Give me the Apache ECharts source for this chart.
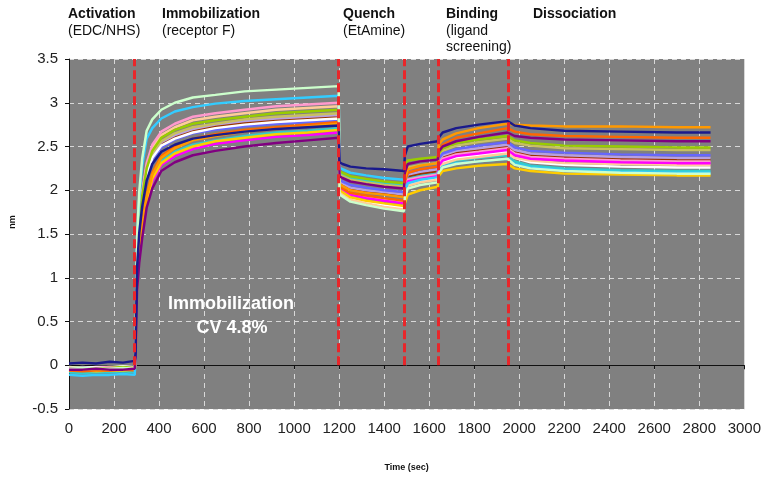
<!DOCTYPE html>
<html>
<head>
<meta charset="utf-8">
<script src="https://cdn.jsdelivr.net/npm/echarts@6/dist/echarts.min.js"></script>
<style>
html,body{margin:0;padding:0;background:#fff;}
#chart{width:764px;height:477px;}
</style>
</head>
<body>
<div id="chart"></div>
<script>
// Time points (sec)
const time = [0,60,120,180,240,292, 296,302,312,325,345,370,410,470,550,650,780,920,1060,1198, 1202,1215,1250,1320,1400,1488, 1492,1505,1560,1638, 1642,1660,1720,1820,1948, 1952,1980,2050,2200,2450,2700,2850];

// Sensor traces (nm)
const navy    = [0.02,0.03,0.02,0.04,0.03,0.05, 0.14,1.10,1.51,1.81,2.11,2.30,2.44,2.52,2.59,2.63,2.67,2.70,2.72,2.74, 2.32,2.30,2.27,2.25,2.24,2.22, 2.40,2.50,2.53,2.56, 2.60,2.66,2.71,2.75,2.79, 2.79,2.74,2.71,2.68,2.67,2.66,2.66];
const orange  = [-0.05,-0.04,-0.06,-0.05,-0.04,-0.05, 0.11,0.97,1.32,1.60,1.93,2.18,2.37,2.48,2.57,2.62,2.67,2.70,2.73,2.76, 2.07,2.05,2.00,1.97,1.95,1.92, 2.14,2.24,2.28,2.31, 2.52,2.58,2.65,2.71,2.76, 2.77,2.75,2.74,2.73,2.73,2.72,2.72];
const orangeRed = [-0.06,-0.07,-0.06,-0.06,-0.05,-0.06, 0.11,0.97,1.33,1.61,1.95,2.20,2.39,2.50,2.59,2.64,2.69,2.72,2.75,2.78, 2.04,2.02,1.97,1.94,1.91,1.88, 2.10,2.20,2.24,2.27, 2.46,2.52,2.60,2.65,2.71, 2.71,2.67,2.64,2.62,2.61,2.60,2.60];
const purple  = [-0.05,-0.05,-0.04,-0.05,-0.05,-0.04, 0.10,0.85,1.17,1.45,1.80,2.02,2.22,2.32,2.40,2.45,2.50,2.54,2.57,2.60, 2.16,2.14,2.10,2.07,2.04,2.02, 2.20,2.30,2.33,2.35, 2.44,2.50,2.56,2.61,2.66, 2.66,2.62,2.60,2.58,2.57,2.56,2.56];
const lime    = [-0.03,-0.03,-0.04,-0.03,-0.02,-0.03, 0.15,1.17,1.61,1.93,2.25,2.45,2.60,2.69,2.76,2.80,2.84,2.88,2.90,2.92, 2.22,2.20,2.16,2.13,2.10,2.08, 2.24,2.34,2.36,2.38, 2.42,2.48,2.54,2.58,2.62, 2.62,2.57,2.54,2.51,2.50,2.49,2.49];
const khaki   = [-0.04,-0.05,-0.04,-0.04,-0.05,-0.04, 0.14,1.15,1.58,1.90,2.22,2.42,2.56,2.65,2.72,2.76,2.81,2.84,2.86,2.88, 2.18,2.16,2.12,2.09,2.06,2.04, 2.16,2.26,2.29,2.31, 2.39,2.45,2.51,2.55,2.59, 2.59,2.54,2.51,2.48,2.47,2.46,2.46];
const blue    = [-0.04,-0.03,-0.04,-0.05,-0.04,-0.03, 0.14,1.12,1.54,1.85,2.16,2.35,2.49,2.58,2.65,2.69,2.73,2.76,2.78,2.80, 2.12,2.10,2.06,2.03,2.00,1.98, 2.10,2.20,2.24,2.27, 2.36,2.42,2.47,2.51,2.55, 2.55,2.49,2.45,2.43,2.41,2.40,2.40];
const lavender= [-0.03,-0.02,-0.03,-0.03,-0.02,-0.02, 0.14,1.14,1.57,1.89,2.20,2.40,2.55,2.63,2.70,2.75,2.79,2.82,2.84,2.86, 2.10,2.08,2.03,2.00,1.98,1.95, 2.08,2.18,2.21,2.24, 2.34,2.40,2.45,2.48,2.52, 2.52,2.46,2.42,2.40,2.38,2.37,2.37];
const pink    = [-0.03,-0.04,-0.03,-0.02,-0.03,-0.03, 0.15,1.20,1.65,1.98,2.31,2.52,2.67,2.76,2.84,2.88,2.92,2.96,2.98,3.00, 2.02,2.00,1.95,1.92,1.89,1.86, 2.02,2.12,2.15,2.18, 2.30,2.36,2.41,2.44,2.48, 2.48,2.42,2.38,2.36,2.34,2.33,2.33];
const peach   = [-0.04,-0.05,-0.04,-0.04,-0.03,-0.04, 0.15,1.18,1.63,1.95,2.28,2.49,2.63,2.72,2.80,2.84,2.88,2.92,2.94,2.96, 1.97,1.95,1.89,1.85,1.81,1.78, 1.95,2.05,2.09,2.12, 2.24,2.30,2.35,2.38,2.42, 2.42,2.37,2.34,2.31,2.30,2.29,2.29];
const teal    = [-0.08,-0.09,-0.08,-0.08,-0.07,-0.08, 0.11,0.95,1.30,1.57,1.90,2.14,2.33,2.44,2.52,2.57,2.62,2.66,2.68,2.71, 2.20,2.18,2.14,2.11,2.08,2.06, 2.03,2.13,2.16,2.19, 2.24,2.30,2.34,2.37,2.40, 2.40,2.33,2.28,2.25,2.23,2.22,2.22];
const cyan    = [-0.11,-0.12,-0.11,-0.11,-0.10,-0.11, 0.15,1.39,1.91,2.28,2.59,2.71,2.82,2.90,2.95,2.99,3.02,3.04,3.06,3.08, 2.26,2.24,2.20,2.17,2.14,2.12, 1.98,2.08,2.12,2.15, 2.21,2.27,2.31,2.33,2.36, 2.36,2.30,2.26,2.23,2.21,2.20,2.20];
const yellow  = [-0.06,-0.06,-0.07,-0.06,-0.06,-0.05, 0.11,0.94,1.29,1.56,1.88,2.13,2.31,2.42,2.50,2.56,2.60,2.64,2.66,2.69, 2.00,1.98,1.92,1.88,1.85,1.82, 1.85,1.95,2.00,2.04, 2.16,2.22,2.25,2.28,2.30, 2.30,2.25,2.22,2.19,2.18,2.17,2.17];
const magenta = [-0.04,-0.04,-0.05,-0.04,-0.04,-0.04, 0.11,0.93,1.28,1.54,1.86,2.10,2.29,2.39,2.47,2.53,2.57,2.61,2.63,2.66, 2.02,2.00,1.95,1.91,1.88,1.85, 2.00,2.10,2.13,2.16, 2.28,2.34,2.39,2.42,2.46, 2.46,2.40,2.36,2.34,2.32,2.31,2.31];
const white   = [-0.02,-0.03,-0.02,-0.02,-0.01,-0.02, 0.14,1.13,1.55,1.86,2.17,2.37,2.51,2.59,2.66,2.71,2.75,2.78,2.80,2.82, 1.99,1.97,1.91,1.87,1.83,1.80, 1.97,2.07,2.10,2.13, 2.26,2.32,2.37,2.40,2.44, 2.44,2.37,2.32,2.29,2.27,2.26,2.26];
const mint    = [-0.04,-0.03,-0.04,-0.04,-0.03,-0.04, 0.16,1.44,1.98,2.36,2.68,2.81,2.92,3.00,3.06,3.09,3.13,3.15,3.17,3.19, 1.95,1.93,1.87,1.83,1.79,1.76, 1.92,2.02,2.06,2.09, 2.20,2.26,2.30,2.33,2.36, 2.36,2.29,2.25,2.22,2.20,2.19,2.19];
const brown   = [-0.05,-0.06,-0.05,-0.05,-0.06,-0.05, 0.14,1.14,1.56,1.87,2.19,2.39,2.53,2.61,2.68,2.73,2.77,2.80,2.82,2.84, 2.08,2.06,2.02,1.99,1.96,1.94, 2.06,2.16,2.19,2.22, 2.32,2.38,2.43,2.46,2.50, 2.50,2.44,2.40,2.38,2.36,2.35,2.35];

// Phase boundaries (sec)
const phaseBounds = [292, 1198, 1490, 1640, 1950];

const traces = [
  {name:'brown', data: brown, color:'#993300'},
  {name:'teal', data: teal, color:'#33cccc'},
  {name:'lavender', data: lavender, color:'#b8a0e0'},
  {name:'khaki', data: khaki, color:'#c8c060'},
  {name:'blue', data: blue, color:'#6666ff'},
  {name:'white', data: white, color:'#ffffff'},
  {name:'peach', data: peach, color:'#ffcc99'},
  {name:'pink', data: pink, color:'#ff99cc'},
  {name:'lime', data: lime, color:'#99cc00'},
  {name:'magenta', data: magenta, color:'#ff00ff'},
  {name:'yellow', data: yellow, color:'#ffcc00'},
  {name:'orangeRed', data: orangeRed, color:'#ff6600'},
  {name:'orange', data: orange, color:'#ff9900'},
  {name:'cyan', data: cyan, color:'#33ccff'},
  {name:'mint', data: mint, color:'#ccffcc'},
  {name:'purple', data: purple, color:'#800080'},
  {name:'navy', data: navy, color:'#1a1a8c'}
];

const FONT = 'Liberation Sans, Arial, sans-serif';

const series = traces.map(tr => ({
  type: 'line',
  name: tr.name,
  data: time.map((t, i) => [t, tr.data[i]]),
  showSymbol: false,
  symbol: 'none',
  lineStyle: {color: tr.color, width: 2.5},
  itemStyle: {color: tr.color},
  xAxisIndex: 0,
  yAxisIndex: 0,
  z: 2
}));

series[0].markLine = {
  silent: true,
  symbol: ['none', 'none'],
  label: {show: false},
  lineStyle: {color: '#e8262a', width: 3, type: [9, 4]},
  z: 10,
  data: phaseBounds.map(x => [{coord: [x, 0]}, {coord: [x, 3.5]}])
};

const chart = echarts.init(document.getElementById('chart'), null, {renderer: 'canvas'});

function label(x, y, text, bold) {
  return {type: 'text', left: x, top: y, style: {text: text, font: (bold ? 'bold ' : '') + '14px ' + FONT, fill: '#111'}};
}

chart.setOption({
  animation: false,
  backgroundColor: '#ffffff',
  grid: {left: 69, right: 18, top: 59, bottom: 64, show: true, backgroundColor: '#808080', borderWidth: 0},
  xAxis: [
    {
      type: 'value', min: 0, max: 3000, interval: 200, position: 'bottom',
      name: 'Time (sec)', nameLocation: 'middle', nameGap: 54,
      nameTextStyle: {fontFamily: FONT, fontSize: 9, fontWeight: 'bold', color: '#111'},
      axisLine: {show: false, onZero: false},
      axisTick: {show: false},
      axisLabel: {fontFamily: FONT, fontSize: 15, color: '#222', margin: 12, formatter: v => String(v)},
      splitLine: {show: true, lineStyle: {color: '#d8d8d8', type: [5, 4], width: 1}}
    },
    {
      type: 'value', min: 0, max: 3000, interval: 200, position: 'top',
      axisLine: {show: true, onZero: true, lineStyle: {color: '#111', width: 1}},
      axisTick: {show: true, inside: true, length: 4, lineStyle: {color: '#111'}},
      axisLabel: {show: false},
      splitLine: {show: false}
    }
  ],
  yAxis: {
    type: 'value', min: -0.5, max: 3.5, interval: 0.5,
    axisLine: {show: true, onZero: false, lineStyle: {color: '#111', width: 1}},
    axisTick: {show: true, length: 4, lineStyle: {color: '#111'}},
    axisLabel: {fontFamily: FONT, fontSize: 15, color: '#222', margin: 11, formatter: v => String(v)},
    splitLine: {show: true, lineStyle: {color: '#d8d8d8', type: [5, 4], width: 1}}
  },
  graphic: [
    label(68, 7, 'Activation', true),
    label(68, 24, '(EDC/NHS)', false),
    label(162, 7, 'Immobilization', true),
    label(162, 24, '(receptor F)', false),
    label(343, 7, 'Quench', true),
    label(343, 24, '(EtAmine)', false),
    label(446, 7, 'Binding', true),
    label(446, 24, '(ligand', false),
    label(446, 40, 'screening)', false),
    label(533, 7, 'Dissociation', true),
    {type: 'text', x: 13, y: 222, rotation: Math.PI / 2,
     style: {text: 'nm', font: 'bold 9px ' + FONT, fill: '#111', align: 'center', verticalAlign: 'middle'}},
    {type: 'text', x: 231, y: 304, z: 100,
     style: {text: 'Immobilization', font: 'bold 18px ' + FONT, fill: '#ffffff', align: 'center', verticalAlign: 'middle'}},
    {type: 'text', x: 232, y: 328, z: 100,
     style: {text: 'CV 4.8%', font: 'bold 18px ' + FONT, fill: '#ffffff', align: 'center', verticalAlign: 'middle'}}
  ],
  series: series
});
</script>
</body>
</html>
